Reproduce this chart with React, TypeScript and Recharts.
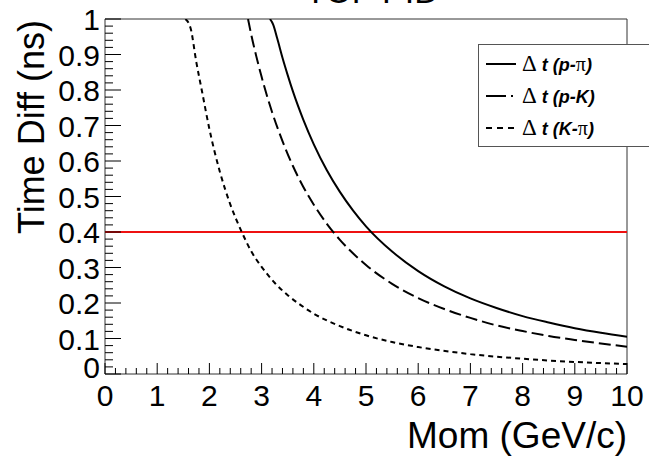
import {
  LineChart,
  Line,
  XAxis,
  YAxis,
  ReferenceLine,
  ReferenceArea,
  Legend,
} from "recharts";

const FONT = "'Liberation Sans', Arial, Helvetica, sans-serif";

// momentum (GeV/c) vs time difference (ns)
const P_PI_MOM = [3.16, 3.22, 3.3, 3.4, 3.5, 3.6, 3.8, 4, 4.25, 4.5, 4.75, 5, 5.5, 6, 6.5, 7, 7.5, 8, 8.5, 9, 9.5, 10];
const P_PI_DT = [1.0, 0.985, 0.945, 0.891, 0.842, 0.796, 0.716, 0.647, 0.574, 0.513, 0.461, 0.416, 0.345, 0.29, 0.247, 0.213, 0.186, 0.163, 0.145, 0.129, 0.116, 0.105];

const P_K_MOM = [2.74, 2.8, 2.9, 3, 3.2, 3.4, 3.6, 3.8, 4, 4.25, 4.5, 4.75, 5, 5.5, 6, 6.5, 7, 7.5, 8, 8.5, 9, 9.5, 10];
const P_K_DT = [1.0, 0.957, 0.894, 0.837, 0.738, 0.656, 0.586, 0.527, 0.477, 0.423, 0.378, 0.34, 0.307, 0.254, 0.214, 0.183, 0.158, 0.137, 0.121, 0.107, 0.096, 0.086, 0.077];

const K_PI_MOM = [1.54, 1.64, 1.75, 1.86, 2, 2.2, 2.4, 2.62, 2.8, 3, 3.25, 3.5, 3.75, 4, 4.5, 5, 5.5, 6, 7, 8, 9, 10];
const K_PI_DT = [1.0, 0.974, 0.878, 0.795, 0.69, 0.57, 0.478, 0.4, 0.346, 0.302, 0.257, 0.222, 0.194, 0.17, 0.135, 0.109, 0.09, 0.076, 0.056, 0.043, 0.034, 0.028];

const CUT_DT = 0.4;

const X_LABELS = ["0", "1", "2", "3", "4", "5", "6", "7", "8", "9", "10"];
const Y_LABELS = ["0", "0.1", "0.2", "0.3", "0.4", "0.5", "0.6", "0.7", "0.8", "0.9", "1"];

// 5 minor divisions per major step, like ROOT
const xTicks = Array.from({ length: 51 }, (_, i) => i * 0.2);
const yTicks = Array.from({ length: 51 }, (_, i) => i * 0.02);

const toPoints = (mom: number[], dt: number[]) => mom.map((p, i) => ({ p, dt: dt[i] }));

const SERIES = [
  { name: "Δ t (p-π)", data: toPoints(P_PI_MOM, P_PI_DT), dash: undefined, legendDash: undefined },
  { name: "Δ t (p-K)", data: toPoints(P_K_MOM, P_K_DT), dash: "12 5", legendDash: "20 5 2 40" },
  { name: "Δ t (K-π)", data: toPoints(K_PI_MOM, K_PI_DT), dash: "5 4", legendDash: "6 5" },
];

function XTick(props: any) {
  const { x, y, index } = props;
  const major = index % 5 === 0;
  return (
    <g>
      <line x1={x} x2={x} y1={y} y2={y - (major ? 11 : 6)} stroke="#000" strokeWidth={1} />
      {major && (
        <text x={x} y={y + 32} textAnchor="middle" fontSize={30} fontFamily={FONT} fill="#000">
          {X_LABELS[index / 5]}
        </text>
      )}
    </g>
  );
}

function YTick(props: any) {
  const { x, y, index } = props;
  const major = index % 5 === 0;
  return (
    <g>
      <line x1={x} x2={x + (major ? 16 : 8)} y1={y} y2={y} stroke="#000" strokeWidth={1} />
      {major && (
        <text
          x={x - 5}
          y={y + 11 - (index === 0 ? 7 : 0)}
          textAnchor="end"
          fontSize={30}
          fontFamily={FONT}
          fill="#000"
        >
          {Y_LABELS[index / 5]}
        </text>
      )}
    </g>
  );
}

function LegendLabel({ text }: { text: string }) {
  return (
    <>
      {text.split(/([Δπ])/).filter(Boolean).map((s, i) =>
        /[Δπ]/.test(s) ? (
          <span key={i} style={{ fontStyle: "normal", fontWeight: 400, fontFamily: "'Liberation Serif', serif", fontSize: s === "Δ" ? 23 : 20 }}>
            {s}
          </span>
        ) : (
          <span key={i}>{s.replace(/ /g, "\u00a0")}</span>
        )
      )}
    </>
  );
}

function renderLegend(props: any) {
  const payload = props.payload || [];
  const entries = SERIES.map((s) => ({ s, e: payload.find((p: any) => p.value === s.name) })).filter((x) => x.e);
  return (
    <div
      style={{
        border: "1px solid #555",
        background: "#fff",
        boxSizing: "border-box",
        height: 103,
        width: 200,
        paddingTop: 3,
        fontFamily: FONT,
      }}
    >
      {entries.map(({ s, e }, i) => (
        <div key={i} style={{ height: 32, display: "flex", alignItems: "center", paddingLeft: 6 }}>
          <svg width={32} height={10} style={{ marginRight: 5 }}>
            <line x1={1} x2={31} y1={5} y2={5} stroke={e.color || "#000"} strokeWidth={2} strokeDasharray={s.legendDash} />
          </svg>
          <span style={{ fontSize: 18, fontWeight: 700, fontStyle: "italic", color: "#000", whiteSpace: "nowrap" }}>
            <LegendLabel text={e.value} />
          </span>
        </div>
      ))}
    </div>
  );
}

export default function App() {
  return (
    <div style={{ position: "absolute", left: 0, top: 0, width: 649, height: 458, overflow: "hidden", background: "#fff" }}>
      <svg width={649} height={40} style={{ position: "absolute", left: 0, top: 0, zIndex: 2, pointerEvents: "none" }}>
        <text x={372} y={3} textAnchor="middle" fontSize={34} fontFamily={FONT} fill="#000">
          TOF PID
        </text>
      </svg>
      <LineChart width={649} height={458} margin={{ top: 19, right: 22, bottom: 0, left: 0 }}>
        <XAxis
          dataKey="p"
          type="number"
          domain={[0, 10]}
          ticks={xTicks}
          interval={0}
          allowDataOverflow
          axisLine={false}
          tickLine={false}
          tickSize={0}
          tickMargin={0}
          height={84}
          tick={<XTick />}
          label={{
            content: (p: any) => {
              const vb = p.viewBox || {};
              return (
                <text x={vb.x + vb.width} y={vb.y + 74} textAnchor="end" fontSize={37} fontFamily={FONT} fill="#000">
                  Mom (GeV/c)
                </text>
              );
            },
          }}
        />
        <YAxis
          type="number"
          domain={[0, 1]}
          ticks={yTicks}
          interval={0}
          allowDataOverflow
          axisLine={false}
          tickLine={false}
          tickSize={0}
          tickMargin={0}
          width={105}
          tick={<YTick />}
          label={{
            content: (p: any) => {
              const vb = p.viewBox || {};
              const x = vb.x + 44;
              const y = vb.y + 1;
              return (
                <text x={x} y={y} transform={`rotate(-90, ${x}, ${y})`} textAnchor="end" fontSize={36} fontFamily={FONT} fill="#000">
                  Time Diff (ns)
                </text>
              );
            },
          }}
        />
        <ReferenceArea x1={0} x2={10} y1={0} y2={1} fill="none" stroke="#333" strokeWidth={1} />
        <ReferenceLine y={CUT_DT} stroke="#ee1111" strokeWidth={2} />
        {SERIES.map((s) => (
          <Line
            key={s.name}
            name={s.name}
            data={s.data}
            dataKey="dt"
            type="monotone"
            stroke="#000"
            strokeWidth={2}
            strokeDasharray={s.dash}
            dot={false}
            activeDot={false}
            isAnimationActive={false}
          />
        ))}
        <Legend
          layout="vertical"
          align="center"
          verticalAlign="middle"
          content={renderLegend}
          wrapperStyle={{ left: 478, top: 44, width: 200, height: 103 }}
        />
      </LineChart>
    </div>
  );
}
